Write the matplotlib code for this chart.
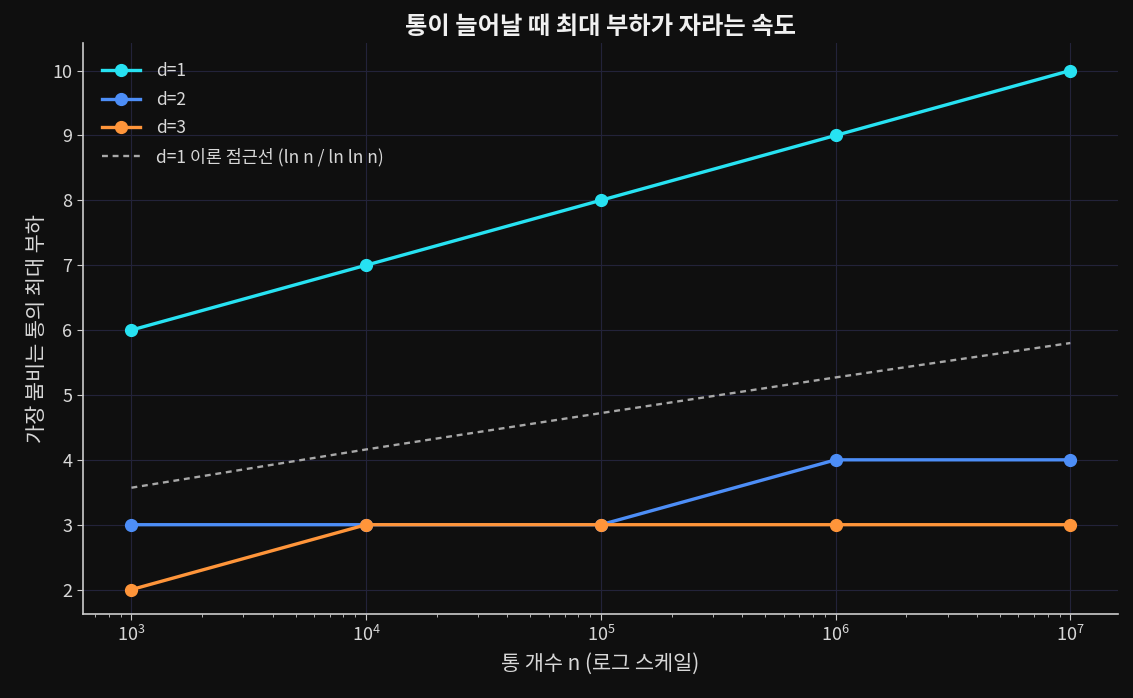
import matplotlib
matplotlib.use("Agg")
import matplotlib.pyplot as plt

plt.rcParams['font.family'] = ['Noto Sans CJK KR', 'DejaVu Sans']

# data
n_values = [1e3, 1e4, 1e5, 1e6, 1e7]
load_d1 = [6, 7, 8, 9, 10]
load_d2 = [3, 3, 3, 4, 4]
load_d3 = [2, 3, 3, 3, 3]
theory_d1 = [3.57, 4.16, 4.72, 5.27, 5.80]

bg = "#0f0f0f"
fg = "#d8d8d8"

fig = plt.figure(figsize=(11.33, 6.98), dpi=100, facecolor=bg)
ax = fig.add_axes([0.073, 0.12, 0.914, 0.818])
ax.set_facecolor(bg)

ax.plot(n_values, load_d1, color="#27e2f2", marker="o", markersize=8.5, linewidth=2.4, label="d=1", zorder=4)
ax.plot(n_values, load_d2, color="#4d8ef7", marker="o", markersize=8.5, linewidth=2.4, label="d=2", zorder=4)
ax.plot(n_values, load_d3, color="#ff953a", marker="o", markersize=8.5, linewidth=2.4, label="d=3", zorder=5)
ax.plot(n_values, theory_d1, color="#a8a8a8", linestyle=(0, (2.5, 2)), linewidth=1.7,
        label="d=1 이론 점근선 (ln n / ln ln n)", zorder=3)

ax.set_xscale("log")
ax.set_xlim(6.2e2, 1.6e7)
ax.set_ylim(1.62, 10.42)
ax.set_yticks(range(2, 11))

ax.grid(True, which="major", color="#23233a", linewidth=0.8, zorder=0)
for side in ("top", "right"):
    ax.spines[side].set_visible(False)
for side in ("left", "bottom"):
    ax.spines[side].set_color("#cccccc")
    ax.spines[side].set_linewidth(1.2)
ax.tick_params(axis="both", which="both", colors="#cccccc", labelcolor=fg, labelsize=13)
ax.tick_params(axis="both", which="major", length=4)
ax.tick_params(axis="x", which="minor", length=2.5)

ax.set_title("통이 늘어날 때 최대 부하가 자라는 속도", color="#f0f0f0", fontsize=17.5, fontweight="bold", pad=7)
ax.set_xlabel("통 개수 n (로그 스케일)", color=fg, fontsize=15, labelpad=6)
ax.set_ylabel("가장 붐비는 통의 최대 부하", color=fg, fontsize=15, labelpad=3)

leg = ax.legend(loc="upper left", frameon=False, fontsize=12.5, labelcolor=fg,
                handlelength=2.2, handletextpad=0.9, labelspacing=0.6,
                borderaxespad=0.7)

fig.savefig("out.png", dpi=100, facecolor=bg)
